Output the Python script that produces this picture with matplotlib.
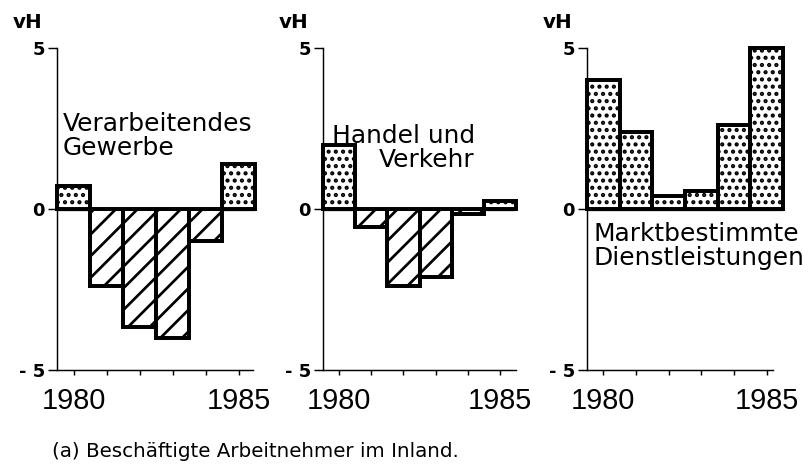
import numpy as np
import matplotlib.pyplot as plt

DPI = 130
plt.rcParams['hatch.linewidth'] = 1.5
plt.rcParams['font.family'] = ['DejaVu Sans']

# data (vH)
years = [1980, 1981, 1982, 1983, 1984, 1985]
verarbeitendes = [0.7, -2.4, -3.65, -4.0, -1.0, 1.4]
handel = [2.0, -0.55, -2.4, -2.1, -0.15, 0.25]
dienstleistungen = [4.0, 2.4, 0.4, 0.55, 2.6, 5.0]
panel_titles = ['Verarbeitendes\nGewerbe', 'Handel und\nVerkehr',
                'Marktbestimmte\nDienstleistungen']
yticks = [-5, 0, 5]
ytick_labels = ['- 5', '0', '5']
year_labels = ['1980', '', '', '', '', '1985']
caption = '(a) Beschäftigte Arbeitnehmer im Inland.'

W, H = 809, 471
fig = plt.figure(figsize=(W / DPI, H / DPI), dpi=DPI)


def pt(px):
    # pixels -> points
    return px * 72 / DPI


# panel boxes in pixels: left, width
boxes = [(57, 198), (323, 193), (587, 196)]
spine_end = [1985.45, 1985.5, 1985.2]
text_pos = [(0.03, 0.80, 'left'), (0.045, 0.765, 'right'), (0.035, 0.46, 'left')]
series = [verarbeitendes, handel, dienstleistungen]

for i, vals in enumerate(series):
    left, width = boxes[i]
    ax = fig.add_axes([left / W, (H - 370) / H, width / W, 322 / H])
    bars = ax.bar(years, vals, width=1.0, color='white', edgecolor='black',
                  linewidth=2.2, clip_on=False, zorder=3)
    for b, v in zip(bars, vals):
        b.set_hatch('...' if v > 0 else '//')
    ax.axhline(0, color='black', lw=1.8, zorder=2)
    ax.set_xlim(1979.5, 1985.5)
    ax.set_ylim(-5, 5)
    for s in ['top', 'right']:
        ax.spines[s].set_visible(False)
    ax.spines['left'].set_linewidth(0.8)
    ax.spines['bottom'].set_linewidth(0.8)
    ax.spines['bottom'].set_bounds(1979.5, spine_end[i])
    ax.set_yticks(yticks)
    ax.set_yticklabels(ytick_labels, fontweight='bold', fontsize=10)
    ax.set_xticks(years)
    ax.set_xticklabels(year_labels, fontsize=16, family='Liberation Sans')
    ax.tick_params(axis='y', length=pt(9), width=0.8, pad=pt(3))
    ax.tick_params(axis='x', length=pt(5), width=0.8, pad=pt(12))
    ax.annotate('vH', xy=(0, 1), xycoords='axes fraction',
                xytext=(pt(-29), pt(26)), textcoords='offset points',
                ha='center', va='center', fontweight='bold', fontsize=11)
    tx, ty, al = text_pos[i]
    ax.text(tx, ty, panel_titles[i], transform=ax.transAxes, ha='left',
            va='top', multialignment=al, linespacing=1.0, fontsize=13.8,
            zorder=5)

fig.text(52 / W, (H - 457) / H, caption, fontsize=11, va='baseline', ha='left')

fig.savefig('out.png', dpi=DPI)
